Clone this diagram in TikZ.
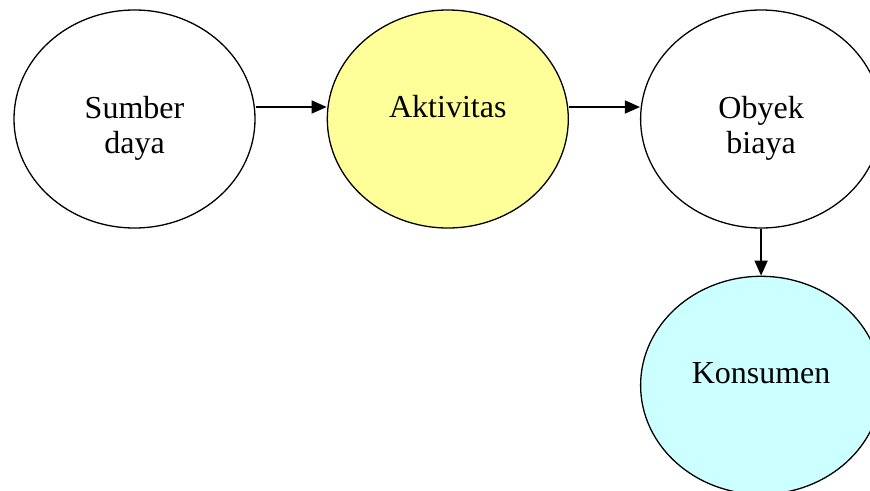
\documentclass[tikz,border=0pt]{standalone}
\usepackage{fontspec}
\setmainfont{Liberation Serif}
\usetikzlibrary{positioning,shapes.geometric,arrows.meta}
\definecolor{kuning}{HTML}{FFFF99}
\definecolor{biru}{HTML}{CCFFFF}
\tikzset{
    bubble/.style={ellipse, draw, line width=1.3pt, inner sep=0pt,
        minimum width=241pt, minimum height=218pt, align=center,
        font=\fontsize{32}{35}\selectfont},
    oneline/.style={text height=18pt, text depth=22pt},
    twoline/.style={text height=70pt, text depth=2pt},
    flow/.style={-{Triangle[length=15pt,width=13pt]}, line width=1.3pt},
}

\begin{document}
\begin{tikzpicture}[node distance=71pt] % alur biaya dari sumber daya ke konsumen
    \useasboundingbox (0,0) rectangle (870pt,-490pt);
    \node[bubble, twoline] (sd) at (134.5pt,-119pt) {Sumber\\daya};
    \node[bubble, oneline, fill=kuning, right=of sd] (akt) {Aktivitas};
    \node[bubble, twoline, right=of akt] (ob) {Obyek\\biaya};
    \node[bubble, oneline, fill=biru, below=47pt of ob] (kon) {Konsumen};

    \draw[flow] ([yshift=12pt]sd.east) -- ([yshift=12pt]akt.west);
    \draw[flow] ([yshift=12pt]akt.east) -- ([yshift=12pt]ob.west);
    \draw[flow] (ob) -- (kon);
\end{tikzpicture}
\end{document}
